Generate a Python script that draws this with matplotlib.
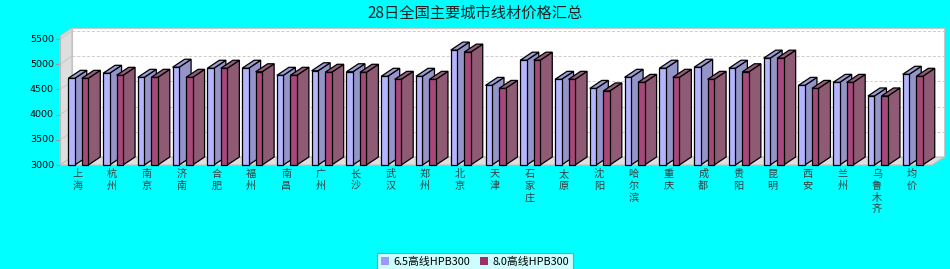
import matplotlib
matplotlib.use("Agg")
import matplotlib.pyplot as plt
from matplotlib.patches import Polygon, Rectangle

plt.rcParams['font.family'] = ['Noto Sans CJK SC', 'DejaVu Sans']

# Data
cities = ["上海", "杭州", "南京", "济南", "合肥", "福州", "南昌", "广州", "长沙",
          "武汉", "郑州", "北京", "天津", "石家庄", "太原", "沈阳", "哈尔滨", "重庆",
          "成都", "贵阳", "昆明", "西安", "兰州", "乌鲁木齐", "均价"]
wire_65 = [4720, 4820, 4740, 4940, 4920, 4920, 4780, 4870, 4850, 4760, 4760, 5280,
           4580, 5080, 4700, 4520, 4740, 4920, 4940, 4920, 5120, 4580, 4640, 4370, 4800]
wire_80 = [4720, 4780, 4740, 4740, 4920, 4850, 4780, 4840, 4840, 4700, 4700, 5240,
           4520, 5080, 4700, 4470, 4640, 4740, 4700, 4850, 5120, 4520, 4640, 4370, 4760]
series_names = ["6.5高线HPB300", "8.0高线HPB300"]
yticks = [3000, 3500, 4000, 4500, 5000, 5500]

# Figure geometry (pixels)
W, H = 950, 269
left_px, right_px, bottom_px, top_px = 60, 932, 165, 36
depth_x, depth_y = 12, 8  # 3D offset in pixels
ymin, ymax = 3000, 5560
xmin, xmax = -0.5, 24.58

fig = plt.figure(figsize=(W / 100, H / 100), dpi=100, facecolor="#00ffff")
ax = fig.add_axes([left_px / W, (H - bottom_px) / H,
                   (right_px - left_px) / W, (bottom_px - top_px) / H])
ax.set_xlim(xmin, xmax)
ax.set_ylim(ymin, ymax)
ax.axis("off")

# pixel -> data unit conversions
ux = (xmax - xmin) / (right_px - left_px)
uy = (ymax - ymin) / (bottom_px - top_px)
dx, dy = depth_x * ux, depth_y * uy

# walls
ax.add_patch(Rectangle((xmin + dx, ymin + dy), xmax - xmin, ymax - ymin,
                       facecolor="white", edgecolor="#c8c8c8", lw=0.8, zorder=1, clip_on=False))
ax.add_patch(Polygon([(xmin, ymin), (xmin, ymax), (xmin + dx, ymax + dy), (xmin + dx, ymin + dy)],
                     facecolor="#dedede", edgecolor="#c0c0c0", lw=0.8, zorder=2, clip_on=False))
ax.add_patch(Polygon([(xmin, ymin), (xmax, ymin), (xmax + dx, ymin + dy), (xmin + dx, ymin + dy)],
                     facecolor="#dedede", edgecolor="#c0c0c0", lw=0.8, zorder=2, clip_on=False))

# gridlines on back wall
for t in yticks[1:]:
    ax.plot([xmin + dx, xmax + dx], [t + dy, t + dy], color="#cccccc", lw=0.7,
            ls=(0, (3, 2)), zorder=1.5, clip_on=False)
    ax.plot([xmin, xmin + dx], [t, t + dy], color="#c4c4c4", lw=0.6, zorder=2.5, clip_on=False)

# y axis ticks and labels
for t in yticks:
    ax.plot([xmin - 4 * ux, xmin], [t, t], color="#999999", lw=0.8, clip_on=False)
    ax.text(xmin - 6 * ux, t, str(t), ha="right", va="center", fontsize=6.8,
            family="DejaVu Sans", color="black")
ax.plot([xmin, xmin], [ymin, ymax], color="#bbbbbb", lw=0.8, clip_on=False, zorder=3)

# bars
bar_w = 6.5 * ux
offsets = [-9.1 * ux, 4.4 * ux]
colors = [("#b4b4ff", "#9494c8", "#9c9cd4"), ("#a8487a", "#8e5a74", "#965c7c")]
z = 4
for i in range(len(cities)):
    for s, vals in enumerate([wire_65, wire_80]):
        v = vals[i]
        xl = i + offsets[s]
        xr = xl + bar_w
        front, side, top = colors[s]
        ax.add_patch(Polygon([(xr, ymin), (xr + dx, ymin + dy), (xr + dx, v + dy), (xr, v)],
                             facecolor=side, edgecolor="black", lw=0.9, zorder=z, clip_on=False))
        ax.add_patch(Polygon([(xl, v), (xr, v), (xr + dx, v + dy), (xl + dx, v + dy)],
                             facecolor=top, edgecolor="black", lw=0.9, zorder=z, clip_on=False))
        ax.add_patch(Rectangle((xl, ymin), bar_w, v - ymin,
                               facecolor=front, edgecolor="black", lw=0.9, zorder=z, clip_on=False))
        z += 0.01

# category labels (vertical)
for i, c in enumerate(cities):
    ax.text(i, ymin - 4 * uy, "\n".join(c), ha="center", va="top", fontsize=7.3,
            color="#3a3a3a", linespacing=1.22)

# title
fig.text(0.5, 1 - 13 / H, "28日全国主要城市线材价格汇总", ha="center", va="center",
         fontsize=11, color="#222222")

# legend
leg = fig.legend([Rectangle((0, 0), 1, 1, facecolor="#9999ff", edgecolor="none"),
                  Rectangle((0, 0), 1, 1, facecolor="#993366", edgecolor="none")],
                 series_names, loc="lower center", bbox_to_anchor=(0.5, -0.01), ncol=2,
                 fontsize=7.8, frameon=True, fancybox=False, edgecolor="#888888",
                 handlelength=0.7, handleheight=0.7, handletextpad=0.4, columnspacing=1.0,
                 borderpad=0.35, borderaxespad=0.1)
leg.get_frame().set_linewidth(0.8)

fig.savefig("out.png", dpi=100, facecolor=fig.get_facecolor())
